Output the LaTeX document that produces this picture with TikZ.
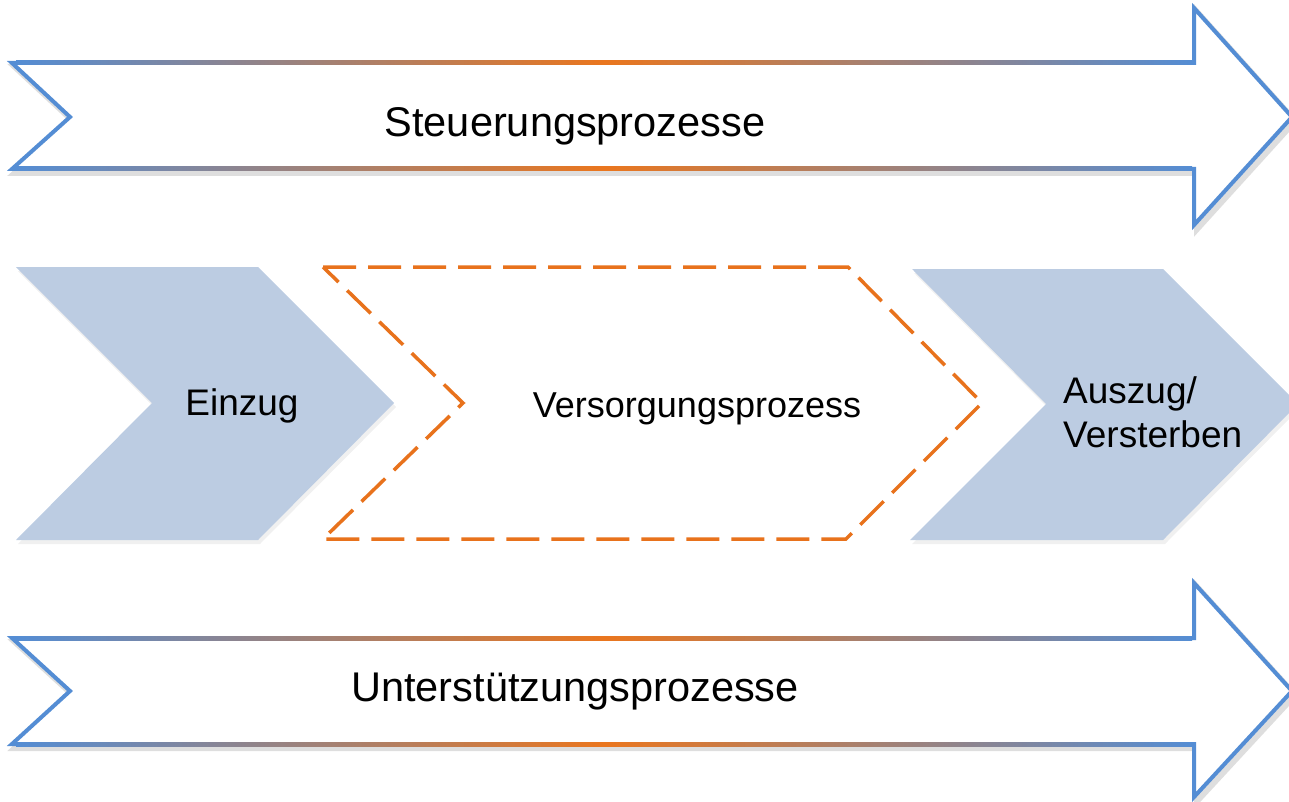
\documentclass[tikz,border=0pt]{standalone}
\usepackage{fontspec}
\setmainfont{Liberation Sans}
\definecolor{arrblue}{RGB}{84,141,212}
\definecolor{arrorange}{RGB}{234,118,30}
\definecolor{chevfill}{RGB}{188,204,226}
\definecolor{dashorange}{RGB}{232,114,28}
\tikzset{
  bigarrow/.style={draw=arrblue, line width=4pt, line join=miter, fill=white},
  arrshadow/.style={draw=black, opacity=0.13, line width=6pt, line join=miter},
  chevron/.style={fill=chevfill, draw=none},
  chevshadow/.style={fill=black, opacity=0.06, draw=none},
  dashbox/.style={draw=dashorange, line width=3.5pt, dash pattern=on 33pt off 12pt, line join=miter},
  bigtext/.style={font=\fontsize{41.5}{50}\selectfont, inner sep=0pt, text=black},
  midtext/.style={font=\fontsize{37}{44}\selectfont, inner sep=0pt, text=black},
}
\begin{document}
\begin{tikzpicture}[x=1pt,y=-1pt]
\useasboundingbox (0,0) rectangle (1289,802);
\clip (0,0) rectangle (1289,802);
% ---------- top arrow ----------
\draw[arrshadow, shift={(3,4)}] (12,63) -- (1194,63) -- (1194,8) -- (1292,117) -- (1194,225) -- (1194,169) -- (12,169) -- (70,117) -- cycle;
\draw[bigarrow] (12,63) -- (1194,63) -- (1194,8) -- (1292,117) -- (1194,225) -- (1194,169) -- (12,169) -- (70,117) -- cycle;
\shade[left color=arrblue, right color=arrblue, middle color=arrorange] (16,61) rectangle (1192,65);
\shade[left color=arrblue, right color=arrblue, middle color=arrorange] (16,167) rectangle (1192,171);
\node[bigtext, anchor=base] (steuer) at (575,137) {Steuerungsprozesse};
% ---------- bottom arrow ----------
\draw[arrshadow, shift={(3,4)}] (12,638) -- (1194,638) -- (1194,583) -- (1292,691) -- (1194,797) -- (1194,744) -- (12,744) -- (70,691) -- cycle;
\draw[bigarrow] (12,638) -- (1194,638) -- (1194,583) -- (1292,691) -- (1194,797) -- (1194,744) -- (12,744) -- (70,691) -- cycle;
\shade[left color=arrblue, right color=arrblue, middle color=arrorange] (16,636) rectangle (1192,640);
\shade[left color=arrblue, right color=arrblue, middle color=arrorange] (16,742) rectangle (1192,746);
\node[bigtext, anchor=base] (unterst) at (575,701) {Unterstützungsprozesse};
% ---------- Einzug chevron ----------
\fill[chevshadow, shift={(2,4)}] (16,267) -- (258,267) -- (394,403) -- (258,540) -- (16,540) -- (152,403) -- cycle;
\fill[chevron] (16,267) -- (258,267) -- (394,403) -- (258,540) -- (16,540) -- (152,403) -- cycle;
\node[midtext, anchor=base] (einzug) at (242,415) {Einzug};
% ---------- Versorgungsprozess (dashed) ----------
\draw[dashbox] (323,267) -- (848,267) -- (982,403) -- (846,539) -- (323,539) -- (463,403) -- cycle;
\node[midtext, font=\fontsize{36}{44}\selectfont, anchor=base] (versorg) at (697,417) {Versorgungsprozess};
% ---------- Auszug chevron ----------
\fill[chevshadow, shift={(2,4)}] (912,269) -- (1163,269) -- (1298,404) -- (1163,540) -- (910,540) -- (1046,404) -- cycle;
\fill[chevron] (912,269) -- (1163,269) -- (1298,404) -- (1163,540) -- (910,540) -- (1046,404) -- cycle;
\node[midtext, anchor=base west, align=left] (auszug) at (1063,447) {Auszug/\\Versterben};
\end{tikzpicture}
\end{document}
